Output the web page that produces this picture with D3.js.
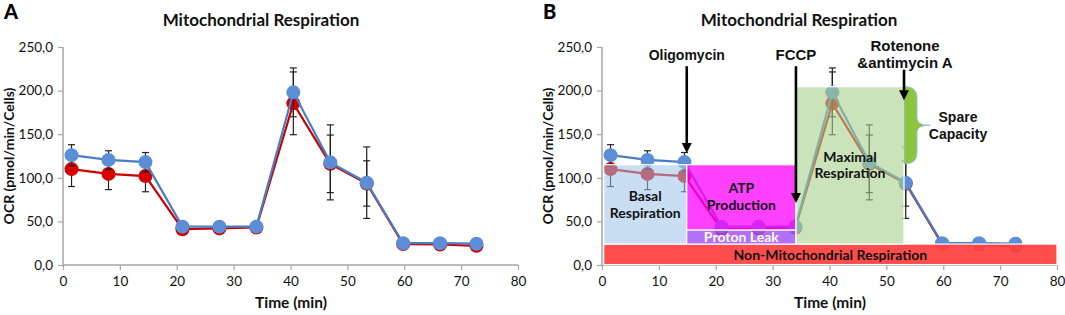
<!DOCTYPE html>
<html><head><meta charset="utf-8">
<script src="https://cdn.jsdelivr.net/npm/d3@7"></script>
<style>
html,body{margin:0;padding:0;background:#fff;}
svg{display:block;}
</style></head>
<body>
<svg id="chart" width="1065" height="315"></svg>
<script>
// ---------- data ----------
const times    = [1.5, 8.0, 14.5, 21.0, 27.5, 34.0, 40.5, 47.0, 53.4, 59.8, 66.3, 72.7];
const ocrBlue  = [126, 120.5, 118, 44, 44, 44, 198, 117.7, 94.4, 25, 25, 24.4];
const ocrRed   = [110, 104.5, 102, 41, 42, 43, 185.4, 116, 93.5, 24, 23.5, 22];
const errBlue  = [12, 10.5, 11, 2, 2, 2, 28, 43, 41, 2, 2, 2];
const errRed   = [20, 18, 18, 2, 2, 2, 36, 33, 26, 2, 2, 2];
const xTicks   = [0, 10, 20, 30, 40, 50, 60, 70, 80];
const yTicks   = [0, 50, 100, 150, 200, 250];

// panel B annotation regions (time / OCR units)
const regionNames = ["Non-Mitochondrial Respiration", "Basal Respiration", "ATP Production", "Proton Leak", "Maximal Respiration"];
const regionT0 = [0.3, 0.3, 14.9, 14.9, 34.1];
const regionT1 = [80, 14.9, 34.1, 34.1, 53.1];
const regionV0 = [0.5, 24, 40, 24, 24];
const regionV1 = [24, 115, 115, 40, 204.5];

// injections
const injNames = [["Oligomycin"], ["FCCP"], ["Rotenone", "&antimycin A"]];
const injTimes = [14.9, 34.1, 53.1];
const injTop   = [228, 228, 224];
const injTip   = [128.5, 71, 189];

// spare capacity
const spareName = ["Spare", "Capacity"];
const spareT = 53.1, spareV0 = 116, spareV1 = 204.5;

// ---------- drawing ----------
const svg = d3.select("#chart");
const C_BLUE = "#5b8ed6", C_BLUE_LINE = "#4a7ec4", C_RED = "#d40000", C_RED_LINE = "#cc0000";
const regionFill = ["#ff4040", "#9cc2e8", "#ff00ff", "#9f4cf5", "#a9d18e"];
const regionOpacity = [0.93, 0.55, 0.75, 0.8, 0.6];
const regionText = ["#111", "#111", "#111", "#fff", "#111"];
const fmt = v => d3.format(".1f")(v).replace(".", ",");

function panel(ox, letter, titleX, annotated) {
  const x = d3.scaleLinear().domain([0, 80]).range([ox, ox + 455]);
  const y = d3.scaleLinear().domain([0, 250]).range([265, 47]);
  const g = svg.append("g");

  g.append("text").attr("x", ox - 59).attr("y", 19).text(letter)
    .attr("font-family", "Lato, sans-serif").attr("font-weight", "900").attr("font-size", 20).attr("fill", "#000");
  g.append("text").attr("x", titleX).attr("y", 26).attr("text-anchor", "middle").text("Mitochondrial Respiration")
    .attr("font-family", "Lato, sans-serif").attr("font-weight", "bold").attr("font-size", 17).attr("fill", "#111");

  // axes
  const xa = g.append("g").attr("transform", "translate(0,265)")
    .call(d3.axisBottom(x).tickValues(xTicks).tickSize(5).tickPadding(6).tickFormat(d3.format("d")));
  const ya = g.append("g").attr("transform", `translate(${ox},0)`)
    .call(d3.axisLeft(y).tickValues(yTicks).tickSize(5).tickPadding(5).tickFormat(fmt));
  [xa, ya].forEach(a => {
    a.select(".domain").attr("stroke", "#a6a6a6").attr("stroke-width", 1.5);
    a.selectAll(".tick line").attr("stroke", "#a6a6a6").attr("stroke-width", 1.2);
    a.selectAll("text").attr("font-family", "Lato, sans-serif").attr("font-size", 13.5).attr("fill", "#111");
  });
  xa.selectAll(".domain").attr("d", `M${ox},0H${ox+455}`);
  ya.selectAll(".domain").attr("d", `M0,${y(250)}V${y(0)}`);

  g.append("text").attr("x", ox + 228).attr("y", 308).attr("text-anchor", "middle").text("Time (min)")
    .attr("font-family", "Lato, sans-serif").attr("font-weight", "bold").attr("font-size", 15.5).attr("fill", "#111");
  g.append("text").attr("transform", `translate(${ox - 49},156) rotate(-90)`).attr("text-anchor", "middle")
    .text("OCR (pmol/min/Cells)")
    .attr("font-family", "Lato, sans-serif").attr("font-weight", "bold").attr("font-size", 14).attr("fill", "#111");

  // series
  const series = [
    {v: ocrRed, e: errRed, fill: C_RED, line: C_RED_LINE},
    {v: ocrBlue, e: errBlue, fill: C_BLUE, line: C_BLUE_LINE}
  ];
  series.forEach(s => {
    const pts = times.map((t, i) => [t, s.v[i], s.e[i]]);
    g.append("path").datum(pts)
      .attr("d", d3.line().x(d => x(d[0])).y(d => y(d[1])))
      .attr("fill", "none").attr("stroke", s.line).attr("stroke-width", 2.2);
    const eb = g.append("g").attr("stroke", "#222").attr("stroke-width", 1.2);
    pts.forEach(d => {
      const cx = x(d[0]);
      eb.append("line").attr("x1", cx).attr("x2", cx).attr("y1", y(d[1] - d[2])).attr("y2", y(d[1] + d[2]));
      [d[1] - d[2], d[1] + d[2]].forEach(v => {
        eb.append("line").attr("x1", cx - 3.5).attr("x2", cx + 3.5).attr("y1", y(v)).attr("y2", y(v));
      });
    });
    g.append("g").selectAll("circle").data(pts).join("circle")
      .attr("cx", d => x(d[0])).attr("cy", d => y(d[1])).attr("r", 7).attr("fill", s.fill);
  });

  if (!annotated) return;

  // regions
  regionNames.forEach((name, i) => {
    g.append("rect").attr("x", x(regionT0[i])).attr("y", y(regionV1[i]))
      .attr("width", x(regionT1[i]) - x(regionT0[i])).attr("height", y(regionV0[i]) - y(regionV1[i]))
      .attr("fill", regionFill[i]).attr("fill-opacity", regionOpacity[i])
      .attr("stroke", "#fff").attr("stroke-width", 1.2);
  });
  // spare capacity brace
  const bx = x(spareT), bt = y(spareV1), bb = y(spareV0), bm = (bt + bb) / 2;
  const brace = `M${bx},${bt} C${bx+9},${bt} ${bx+13},${bt+3} ${bx+13},${bt+12} L${bx+13},${bm-8}
     C${bx+13},${bm-3} ${bx+16},${bm} ${bx+26},${bm} C${bx+16},${bm} ${bx+13},${bm+3} ${bx+13},${bm+8}
     L${bx+13},${bb-12} C${bx+13},${bb-3} ${bx+9},${bb} ${bx},${bb} Z`;
  g.append("path").attr("d", brace).attr("fill", "#8cc63f").attr("stroke", "#9cc0e6").attr("stroke-width", 1);

  // region labels
  const lab = (lines, cx, cy, color) => {
    const t = g.append("text").attr("text-anchor", "middle")
      .attr("font-family", "Lato, sans-serif").attr("font-weight", "bold").attr("font-size", 14).attr("fill", color);
    lines.forEach((l, k) => t.append("tspan").attr("x", cx).attr("y", cy + (k - (lines.length - 1) / 2) * 16.5 + 5).text(l));
  };
  const split = [["Non-Mitochondrial Respiration"], ["Basal", "Respiration"], ["ATP", "Production"], ["Proton Leak"], ["Maximal", "Respiration"]];
  regionNames.forEach((n, i) => {
    const cx = (x(regionT0[i]) + x(regionT1[i])) / 2;
    let cy = (y(regionV0[i]) + y(regionV1[i])) / 2;
    if (i === 2) cy -= 1; if (i === 4) cy = 165; if (i === 0) cy += 1;
    lab(split[i], cx, cy, regionText[i]);
  });

  // injection arrows
  injNames.forEach((lines, i) => {
    const ax = x(injTimes[i]);
    const tip = y(injTip[i]);
    g.append("line").attr("x1", ax).attr("x2", ax).attr("y1", y(injTop[i])).attr("y2", tip - 8)
      .attr("stroke", "#000").attr("stroke-width", 2.6);
    g.append("path").attr("d", `M${ax-5},${tip-10} L${ax+5},${tip-10} L${ax},${tip} Z`).attr("fill", "#000");
    const t = g.append("text").attr("text-anchor", "middle")
      .attr("font-family", "Liberation Sans, Arial, sans-serif").attr("font-weight", "bold")
      .attr("font-size", i === 0 ? 14 : 15).attr("fill", "#111");
    lines.forEach((l, k) => t.append("tspan").attr("x", ax + (lines.length > 1 ? 1 : 0))
      .attr("y", lines.length > 1 ? 51 + k * 17 : 60).text(l));
  });
  // spare capacity label
  const st = g.append("text").attr("text-anchor", "middle")
    .attr("font-family", "Liberation Sans, Arial, sans-serif").attr("font-weight", "bold").attr("font-size", 14).attr("fill", "#111");
  spareName.forEach((l, k) => st.append("tspan").attr("x", bx + 54).attr("y", 122 + k * 17).text(l));
}

panel(63, "A", 261, false);
panel(602, "B", 799, true);
</script>
</body></html>
